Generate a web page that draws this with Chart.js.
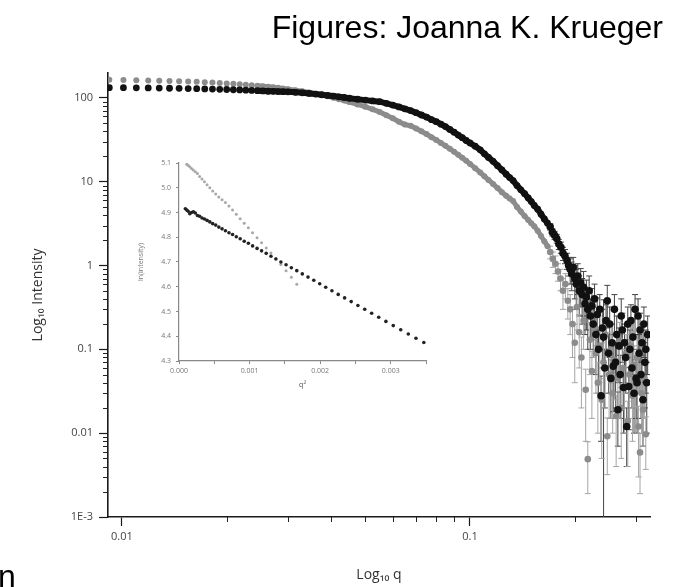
<!DOCTYPE html>
<html>
<head>
<meta charset="utf-8">
<script src="https://cdn.jsdelivr.net/npm/chart.js@4.4.1/dist/chart.umd.min.js"></script>
<style>
  html, body { margin: 0; padding: 0; background: #fff; }
  #wrap { position: relative; width: 677px; height: 587px; overflow: hidden; }
  #main { position: absolute; left: 0; top: 0; }
  #inset { position: absolute; left: 130px; top: 150px; }
  #title { position: absolute; right: 14px; top: 11px; font: 32px "Liberation Sans", Arial, sans-serif; line-height: 32px; color: #000; white-space: nowrap; }
  #cut { position: absolute; left: -2px; top: 560px; font: 32px "Liberation Sans", Arial, sans-serif; line-height: 32px; color: #000; }
</style>
</head>
<body>
<div id="wrap">
  <canvas id="main" width="677" height="587"></canvas>
  <canvas id="inset" width="310" height="250"></canvas>
  <div id="title">Figures: Joanna K. Krueger</div>
  <div id="cut">n</div>
</div>
<script>
// main plot: log10 intensity vs log10 q
const qSmooth = [0.0092, 0.0101, 0.011, 0.0119, 0.0128, 0.0137, 0.0146, 0.0155, 0.0164, 0.0173,
  0.0182, 0.0191, 0.02, 0.0209, 0.0218, 0.0227, 0.0236, 0.0245, 0.0254, 0.0263,
  0.0272, 0.0281, 0.029, 0.03, 0.0315, 0.033, 0.0345, 0.036, 0.0375, 0.039,
  0.0405, 0.042, 0.0435, 0.045, 0.0475, 0.05, 0.0525, 0.055, 0.0575, 0.06,
  0.0625, 0.065, 0.0675, 0.07, 0.0725, 0.075, 0.0775, 0.08, 0.0825, 0.085,
  0.0875, 0.09, 0.0925, 0.095, 0.0975, 0.1, 0.1035, 0.107, 0.11, 0.113,
  0.1165, 0.12, 0.1235, 0.127, 0.13, 0.133, 0.1365, 0.14, 0.1435, 0.147,
  0.15, 0.153, 0.1565, 0.16, 0.1635, 0.167];

const graySmooth = [164.5, 163.7, 162.7, 161.6, 160.4, 159.1, 157.9, 156.6, 155.2, 153.7,
  152.2, 150.5, 148.8, 147.1, 145.3, 143.6, 141.6, 139.8, 137.7, 135.8,
  133.6, 131.6, 129.4, 127.1, 123.4, 119.7, 115.9, 112.1, 108.2, 104.4,
  100.5, 96.6, 92.8, 89, 83.5, 78.5, 73, 68, 62, 57,
  52, 48, 46.5, 43, 40, 37, 34, 31.5, 29, 26.8,
  24.7, 22.8, 21, 19.3, 17.8, 16.3, 14.5, 12.9, 11.6, 10.5,
  9.4, 8.4, 7.5, 6.8, 6.3, 5.9, 5.0, 4.4, 3.9, 3.5,
  3.2, 2.95, 2.6, 2.25, 1.95, 1.7];

const blackSmooth = [132.4, 132.2, 131.7, 131.3, 130.8, 130.3, 129.8, 129.2, 128.6, 128,
  127.3, 126.6, 125.8, 125, 124.3, 123.5, 122.7, 121.8, 121, 120,
  119.6, 119, 118.5, 118, 116.5, 115, 113, 111, 109, 107,
  105, 103, 101, 99, 96.5, 94, 92, 90, 86, 82,
  78, 74, 70.5, 66.5, 62.5, 59, 55, 52, 48.5, 45.5,
  42, 39, 36, 33.5, 31, 29, 26.5, 24, 21.5, 19.5,
  17.5, 15.5, 13.8, 12.3, 11.2, 10.3, 9, 8, 7.2, 6.4,
  5.8, 5.2, 4.7, 4.1, 3.6, 3.2];

const qBlackTail = [0.17, 0.1725, 0.175, 0.1775, 0.18, 0.1825, 0.185, 0.1875,
  0.19, 0.192, 0.194, 0.196, 0.198, 0.2, 0.202, 0.204, 0.206, 0.208,
  0.21, 0.212, 0.214, 0.216, 0.218, 0.22, 0.222, 0.224, 0.226, 0.228,
  0.23, 0.232, 0.234, 0.236, 0.238, 0.24, 0.242, 0.244, 0.246, 0.248,
  0.25, 0.252, 0.254, 0.256, 0.258, 0.26, 0.262, 0.264, 0.266, 0.268,
  0.27, 0.272, 0.274, 0.276, 0.278, 0.28, 0.282, 0.284, 0.286, 0.288,
  0.29, 0.292, 0.294, 0.296, 0.298, 0.3, 0.302, 0.304, 0.306, 0.308,
  0.31, 0.312, 0.314, 0.316, 0.318, 0.32, 0.322, 0.324];
const blackTail = [2.9, 2.5, 2.3, 2.1, 1.8, 1.65, 1.4, 1.3,
  1.15, 1.0, 0.9, 0.8, 0.95, 0.7, 0.6, 0.75, 0.5, 0.62,
  0.45, 0.55, 0.35, 0.42, 0.3, 0.5, 0.25, 0.33, 0.2, 0.4,
  0.15, 0.26, 0.1, 0.3, 0.028, 0.18, 0.14, 0.06, 0.22, 0.38,
  0.09, 0.2, 0.045, 0.12, 0.063, 0.3, 0.07, 0.15, 0.019, 0.11,
  0.05, 0.25, 0.17, 0.035, 0.12, 0.08, 0.012, 0.2, 0.036, 0.1,
  0.22, 0.06, 0.14, 0.03, 0.3, 0.045, 0.04, 0.25, 0.09, 0.17,
  0.05, 0.12, 0.025, 0.2, 0.07, 0.1, 0.04, 0.15];
const blackTailErr = [0.25, 0.25, 0.25, 0.25, 0.25, 0.25, 0.25, 0.25,
  0.25, 0.25, 0.3, 0.3, 0.3, 0.3, 0.3, 0.3, 0.25, 0.3,
  0.25, 0.3, 0.2, 0.25, 0.2, 0.25, 0.15, 0.2, 0.12, 0.2,
  0.1, 0.15, 0.07, 0.15, 0.02, 0.12, 0.25, 0.04, 0.12, 0.2,
  0.06, 0.12, 0.03, 0.08, 0.045, 0.15, 0.05, 0.1, 0.012, 0.07,
  0.035, 0.15, 0.1, 0.025, 0.08, 0.05, 0.008, 0.12, 0.025, 0.07,
  0.12, 0.04, 0.09, 0.02, 0.15, 0.03, 0.03, 0.15, 0.06, 0.1,
  0.035, 0.08, 0.018, 0.12, 0.05, 0.07, 0.03, 0.1];

const qGrayTail = [0.17, 0.173, 0.176, 0.179, 0.182, 0.185, 0.188, 0.191, 0.194, 0.197,
  0.2, 0.203, 0.206, 0.209, 0.212, 0.215, 0.218, 0.221, 0.224, 0.227,
  0.23, 0.233, 0.236, 0.239, 0.242, 0.245, 0.248, 0.251, 0.254, 0.257,
  0.26, 0.263, 0.266, 0.269, 0.272, 0.275, 0.278, 0.281, 0.284, 0.287,
  0.29, 0.293, 0.296, 0.299, 0.302, 0.305, 0.308, 0.311, 0.314, 0.317, 0.32];
const grayTail = [1.45, 1.2, 1.05, 0.85, 0.7, 0.5, 0.6, 0.38, 0.3, 0.2,
  0.12, 0.32, 0.16, 0.08, 0.22, 0.033, 0.0049, 0.13, 0.055, 0.18,
  0.09, 0.04, 0.11, 0.025, 0.07, 0.15, 0.0092, 0.05, 0.1, 0.03,
  0.075, 0.016, 0.045, 0.13, 0.02, 0.06, 0.035, 0.09, 0.014, 0.05,
  0.11, 0.028, 0.065, 0.04, 0.08, 0.012, 0.0059, 0.03, 0.019, 0.045, 0.0097];
const grayTailErr = [0.25, 0.25, 0.25, 0.2, 0.2, 0.2, 0.2, 0.15, 0.15, 0.12,
  0.08, 0.15, 0.1, 0.06, 0.12, 0.025, 0.003, 0.08, 0.04, 0.1,
  0.06, 0.03, 0.07, 0.02, 0.05, 0.09, 0.006, 0.035, 0.06, 0.02,
  0.05, 0.012, 0.03, 0.08, 0.015, 0.04, 0.025, 0.06, 0.01, 0.035,
  0.07, 0.02, 0.045, 0.03, 0.05, 0.009, 0.004, 0.02, 0.012, 0.03, 0.006];

const xMajor = [0.01, 0.1];
const xMajorLabels = ['0.01', '0.1'];
const xMinor = [0.02, 0.03, 0.04, 0.05, 0.06, 0.07, 0.08, 0.09, 0.2, 0.3];
const yMajor = [0.001, 0.01, 0.1, 1, 10, 100];
const yMajorLabels = ['1E-3', '0.01', '0.1', '1', '10', '100'];
const yMinor = [0.002, 0.003, 0.004, 0.005, 0.006, 0.007, 0.008, 0.009,
  0.02, 0.03, 0.04, 0.05, 0.06, 0.07, 0.08, 0.09,
  0.2, 0.3, 0.4, 0.5, 0.6, 0.7, 0.8, 0.9,
  2, 3, 4, 5, 6, 7, 8, 9,
  20, 30, 40, 50, 60, 70, 80, 90];

// inset: ln(intensity) vs q^2
const insetQ2 = [0.00009, 0.00011, 0.00013, 0.000153, 0.000177, 0.000203, 0.000231, 0.000261, 0.000292, 0.000326,
  0.000361, 0.000398, 0.000437, 0.000477, 0.00052, 0.000564, 0.00061, 0.000658, 0.000708, 0.000759,
  0.000812, 0.000867, 0.000924, 0.000983, 0.001043, 0.001106, 0.00117, 0.001236, 0.001303, 0.001373,
  0.001444, 0.001517, 0.001592, 0.001669, 0.001747, 0.001828, 0.00191, 0.001994, 0.002079, 0.002167,
  0.002256, 0.002347, 0.00244, 0.002535, 0.002632, 0.00273, 0.00283, 0.002932, 0.003036, 0.003142,
  0.003249, 0.003358, 0.003469];
const insetBlack = [4.915, 4.91, 4.905, 4.895, 4.9, 4.903, 4.898, 4.888, 4.885, 4.878,
  4.874, 4.868, 4.862, 4.855, 4.849, 4.841, 4.834, 4.826, 4.818, 4.811,
  4.802, 4.794, 4.784, 4.776, 4.765, 4.755, 4.745, 4.735, 4.723, 4.712,
  4.7, 4.689, 4.677, 4.665, 4.652, 4.639, 4.626, 4.612, 4.598, 4.584,
  4.569, 4.555, 4.54, 4.524, 4.509, 4.493, 4.477, 4.46, 4.443, 4.426,
  4.409, 4.392, 4.375];
const insetGray = [null, 5.095, 5.09, 5.085, 5.078, 5.072, 5.065, 5.058, 5.045, 5.035,
  5.024, 5.012, 5.0, 4.987, 4.975, 4.963, 4.952, 4.94, 4.926, 4.91,
  4.893, 4.875, 4.857, 4.838, 4.818, 4.798, 4.778, 4.757, 4.736, 4.714,
  4.69, 4.665, 4.638, 4.61];
const insetXTicks = [0, 0.0005, 0.001, 0.0015, 0.002, 0.0025, 0.003, 0.0035];
const insetXLabels = ['0.000', '', '0.001', '', '0.002', '', '0.003', ''];
const insetYTicks = [4.3, 4.4, 4.5, 4.6, 4.7, 4.8, 4.9, 5.0, 5.1];
const insetYLabels = ['4.3', '4.4', '4.5', '4.6', '4.7', '4.8', '4.9', '5.0', '5.1'];

const toPoints = (xs, ys) => xs.map((x, i) => ({ x: x, y: ys[i] })).filter(p => p.y !== null && p.y !== undefined);

// vertical error bars with caps, drawn under the points
const errorBars = {
  id: 'errorBars',
  beforeDatasetsDraw(chart) {
    const { ctx, chartArea, scales } = chart;
    ctx.save();
    ctx.beginPath();
    ctx.rect(chartArea.left, chartArea.top, chartArea.right - chartArea.left, chartArea.bottom - chartArea.top);
    ctx.clip();
    chart.data.datasets.forEach(ds => {
      if (!ds.errors) return;
      ctx.strokeStyle = ds.errorColor;
      ctx.lineWidth = 1;
      ds.data.forEach((p, i) => {
        const e = ds.errors[i];
        const px = scales.x.getPixelForValue(p.x);
        const top = scales.y.getPixelForValue(p.y + e);
        const low = p.y - e;
        const bot = low > 0 ? scales.y.getPixelForValue(low) : chartArea.bottom + 2;
        ctx.beginPath();
        ctx.moveTo(px, top); ctx.lineTo(px, bot);
        ctx.moveTo(px - 3, top); ctx.lineTo(px + 3, top);
        if (low > 0) { ctx.moveTo(px - 3, bot); ctx.lineTo(px + 3, bot); }
        ctx.stroke();
      });
    });
    ctx.restore();
  }
};

const minorTicks = {
  id: 'minorTicks',
  afterDraw(chart, args, opts) {
    const { ctx, chartArea, scales } = chart;
    ctx.save();
    ctx.strokeStyle = '#222';
    ctx.lineWidth = 1;
    ctx.beginPath();
    opts.y.forEach(v => {
      const py = Math.round(scales.y.getPixelForValue(v)) + 0.5;
      ctx.moveTo(chartArea.left - 5, py); ctx.lineTo(chartArea.left, py);
    });
    opts.x.forEach(v => {
      const px = Math.round(scales.x.getPixelForValue(v)) + 0.5;
      ctx.moveTo(px, chartArea.bottom); ctx.lineTo(px, chartArea.bottom + 5);
    });
    ctx.stroke();
    ctx.restore();
  }
};

const hideLowLine = ctx => ctx.p0.parsed.x < 0.024 ? 'rgba(0,0,0,0)' : undefined;
const tickFont = { family: 'Open Sans', size: 11 };

new Chart(document.getElementById('main'), {
  type: 'scatter',
  data: {
    datasets: [
      { data: toPoints(qSmooth, blackSmooth), showLine: true, borderColor: '#111', borderWidth: 6,
        pointRadius: 3.4, pointBorderWidth: 0, pointBackgroundColor: '#111', segment: { borderColor: hideLowLine }, order: 2 },
      { data: toPoints(qBlackTail, blackTail), errors: blackTailErr, errorColor: '#444',
        pointRadius: 3.8, pointBorderWidth: 0, pointBackgroundColor: '#111', order: 1 },
      { data: toPoints(qSmooth, graySmooth), showLine: true, borderColor: '#8c8c8c', borderWidth: 5,
        pointRadius: 3, pointBorderWidth: 0, pointBackgroundColor: '#8c8c8c', segment: { borderColor: hideLowLine }, order: 4 },
      { data: toPoints(qGrayTail, grayTail), errors: grayTailErr, errorColor: '#a5a5a5',
        pointRadius: 3.3, pointBorderWidth: 0, pointBackgroundColor: '#8c8c8c', order: 3 }
    ]
  },
  options: {
    responsive: false,
    animation: false,
    events: [],
    layout: { padding: { left: 0, top: 73, right: 27, bottom: 0 } },
    plugins: {
      legend: { display: false },
      tooltip: { enabled: false },
      minorTicks: { x: xMinor, y: yMinor }
    },
    scales: {
      x: {
        type: 'logarithmic',
        min: 0.00912, max: 0.329,
        afterBuildTicks: s => { s.ticks = xMajor.map(v => ({ value: v })); },
        afterFit: s => { s.height = 70; },
        border: { color: '#1a1a1a', width: 1.6 },
        grid: { drawOnChartArea: false, tickLength: 9, tickColor: '#1a1a1a', tickWidth: 1.2 },
        ticks: { autoSkip: false, maxRotation: 0, padding: 4, color: '#444', font: tickFont,
          callback: v => xMajorLabels[xMajor.indexOf(v)] },
        title: { display: true, text: 'Log₁₀ q', color: '#333', font: { family: 'Open Sans', size: 14 }, padding: { top: 0, bottom: 4 } }
      },
      y: {
        type: 'logarithmic',
        min: 0.001, max: 198,
        afterBuildTicks: s => { s.ticks = yMajor.map(v => ({ value: v })); },
        afterFit: s => { s.width = 108; },
        border: { color: '#1a1a1a', width: 1.6 },
        grid: { drawOnChartArea: false, tickLength: 9, tickColor: '#1a1a1a', tickWidth: 1.2 },
        ticks: { autoSkip: false, padding: 6, color: '#444', font: tickFont,
          callback: v => yMajorLabels[yMajor.indexOf(v)] },
        title: { display: true, text: 'Log₁₀ Intensity', color: '#333', font: { family: 'Open Sans', size: 14 }, padding: { top: 30, bottom: 0 } }
      }
    }
  },
  plugins: [errorBars, minorTicks]
});

const insetFont = { family: 'Open Sans', size: 7 };

new Chart(document.getElementById('inset'), {
  type: 'scatter',
  data: {
    datasets: [
      { data: toPoints(insetQ2, insetBlack), pointRadius: 1.8, pointBorderWidth: 0, pointBackgroundColor: '#222' },
      { data: toPoints(insetQ2, insetGray), pointRadius: 1.5, pointBorderWidth: 0, pointBackgroundColor: '#a8a8a8' }
    ]
  },
  options: {
    responsive: false,
    animation: false,
    events: [],
    layout: { padding: { left: 0, top: 13, right: 14, bottom: 0 } },
    plugins: { legend: { display: false }, tooltip: { enabled: false } },
    scales: {
      x: {
        type: 'linear', min: 0, max: 0.0035,
        afterBuildTicks: s => { s.ticks = insetXTicks.map(v => ({ value: v })); },
        afterFit: s => { s.height = 39; },
        border: { color: '#888', width: 1.2 },
        grid: { drawOnChartArea: false, tickLength: 3, tickColor: '#888' },
        ticks: { autoSkip: false, maxRotation: 0, padding: 3, color: '#777', font: insetFont,
          callback: (v, i) => insetXLabels[i] },
        title: { display: true, text: 'q²', color: '#666', font: { family: 'Open Sans', size: 8 }, padding: { top: 0, bottom: 10 } }
      },
      y: {
        type: 'linear', min: 4.3, max: 5.1,
        afterBuildTicks: s => { s.ticks = insetYTicks.map(v => ({ value: v })); },
        afterFit: s => { s.width = 49; },
        border: { color: '#888', width: 1.2 },
        grid: { drawOnChartArea: false, tickLength: 3, tickColor: '#888' },
        ticks: { autoSkip: false, padding: 5, color: '#777', font: insetFont,
          callback: (v, i) => insetYLabels[i] },
        title: { display: true, text: 'ln(intensity)', color: '#777', font: { family: 'Open Sans', size: 7 }, padding: { top: 7, bottom: 0 } }
      }
    }
  }
});
</script>
</body>
</html>
